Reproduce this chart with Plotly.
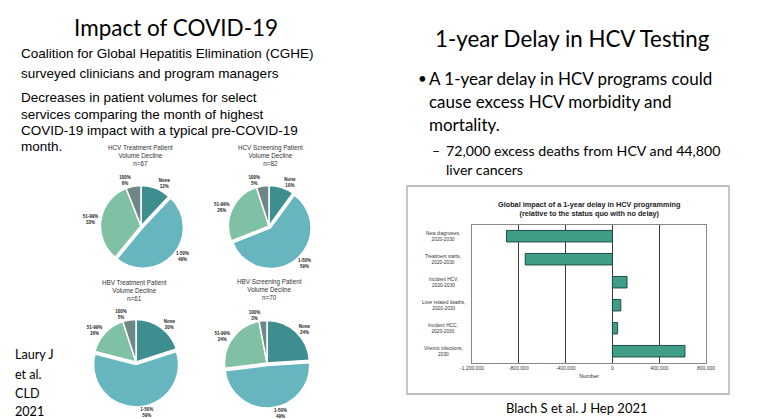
import plotly.graph_objects as go

# Window is 765x419; the page body adds an 8px offset, so the figure is
# sized to fill the remaining area and coordinates are mapped accordingly.
OFF = 8
W, H = 765 - OFF, 419 - OFF

def px(x):
    return (x - OFF) / W

def py(y):
    return 1 - (y - OFF) / H

# ---------------- data ----------------
pie_labels = ["None", "1-50%", "51-99%", "100%"]
hcv_treat = [12, 49, 33, 6]
hcv_screen = [10, 59, 26, 5]
hbv_treat = [20, 59, 16, 5]
hbv_screen = [24, 49, 24, 3]
pie_titles = [
    "HCV Treatment Patient<br>Volume Decline<br>n=67",
    "HCV Screening Patient<br>Volume Decline<br>n=82",
    "HBV Treatment Patient<br>Volume Decline<br>n=61",
    "HBV Screening Patient<br>Volume Decline<br>n=70",
]

bar_categories = [
    "New diagnoses,<br>2020-2030",
    "Treatment starts,<br>2020-2030",
    "Incident HCV,<br>2020-2030",
    "Liver related deaths,<br>2020-2030",
    "Incident HCC,<br>2020-2030",
    "Viremic infections,<br>2030",
]
bar_values = [-905000, -745000, 125000, 72000, 44800, 620000]
x_tickvals = [-1200000, -800000, -400000, 0, 400000, 800000]
x_ticktext = ["-1,200,000", "-800,000", "-400,000", "0", "400,000", "800,000"]

pie_colors = ["#3f8e8f", "#66b5bf", "#80c1a5", "#6f8786"]

fig = go.Figure()

# ---------------- pies ----------------
pie_specs = [
    (hcv_treat, 141, 226, 43, 140, 155),
    (hcv_screen, 269, 226, 43, 270, 155),
    (hbv_treat, 136, 362, 45, 134, 290),
    (hbv_screen, 267, 363, 45, 269, 289),
]
for (vals, cx, cy, r, tx, ty), title in zip(pie_specs, pie_titles):
    fig.add_trace(go.Pie(
        labels=pie_labels, values=vals, sort=False, direction="clockwise",
        rotation=0, pull=[0.0, 0.06, 0.0, 0.0],
        marker=dict(colors=pie_colors, line=dict(color="white", width=1.5)),
        texttemplate="<b>%{label}<br>%{value}%</b>", textposition="outside",
        textfont=dict(family="Liberation Sans", size=4.5, color="#222"),
        hoverinfo="skip", showlegend=False, automargin=False,
        domain=dict(x=[px(cx - r), px(cx + r)], y=[py(cy + r), py(cy - r)]),
    ))
    fig.add_annotation(
        x=px(tx), y=py(ty), xref="paper", yref="paper", text=title,
        showarrow=False, xanchor="center", yanchor="middle", align="center",
        font=dict(family="Liberation Sans", size=6.3, color="#333"),
    )

# ---------------- bar chart ----------------
fig.add_trace(go.Bar(
    x=bar_values, y=bar_categories, orientation="h", width=0.5,
    marker=dict(color="#409e88", line=dict(color="#1e4d42", width=1)),
    showlegend=False, hoverinfo="skip",
))

fig.update_layout(
    xaxis=dict(
        domain=[px(472), px(706)], range=[-1200000, 800000],
        tickvals=x_tickvals, ticktext=x_ticktext,
        tickfont=dict(family="Liberation Sans", size=5, color="#333"),
        showgrid=True, gridcolor="#3c3c3c", gridwidth=1,
        zeroline=False, showline=True, linecolor="#888", mirror=True,
        ticks="", ticklen=0, automargin=False,
        title=dict(text="Number", font=dict(family="Liberation Sans", size=5.5, color="#333"), standoff=4),
        anchor="y",
    ),
    yaxis=dict(
        domain=[py(362.7), py(224.7)], categoryorder="array",
        categoryarray=bar_categories, autorange="reversed",
        showticklabels=False, showgrid=False, zeroline=False,
        showline=True, linecolor="#888", mirror=True, anchor="x",
        automargin=False,
    ),
)

for cat in bar_categories:
    fig.add_annotation(
        x=px(443), y=cat, xref="paper", yref="y", text=cat, showarrow=False,
        xanchor="center", yanchor="middle", align="center",
        font=dict(family="Liberation Sans", size=4.8, color="#333"),
    )

fig.add_annotation(
    x=px(589), y=py(209), xref="paper", yref="paper",
    text="<b>Global impact of a 1-year delay in HCV programming<br>(relative to the status quo with no delay)</b>",
    showarrow=False, xanchor="center", yanchor="middle", align="center",
    font=dict(family="Liberation Sans", size=7.3, color="#222"),
)

# outer frame of bar chart
fig.add_shape(type="rect", xref="paper", yref="paper",
              x0=px(407), x1=px(729), y0=py(394), y1=py(186),
              line=dict(color="#a8a8a8", width=1.3))
# right slide edge strip
fig.add_shape(type="rect", xref="paper", yref="paper",
              x0=px(763), x1=1, y0=0, y1=1,
              line=dict(width=0), fillcolor="#e6e6e6")

# ---------------- slide text ----------------
def txt(x, y, s, size, family="Lato", anchor="left", color="black"):
    if anchor == "left":
        x -= 2  # compensate annotation inner padding
    fig.add_annotation(x=px(x), y=py(y), xref="paper", yref="paper", text=s,
                       showarrow=False, xanchor=anchor, yanchor="middle",
                       align=anchor,
                       font=dict(family=family, size=size, color=color))

txt(176, 27, "Impact of COVID-19", 22.5, anchor="center")
txt(572, 38, "1-year Delay in HCV Testing", 22.3, anchor="center")

left_lines = [
    (54, "Coalition for Global Hepatitis Elimination (CGHE)"),
    (73, "surveyed clinicians and program managers"),
    (97, "Decreases in patient volumes for select"),
    (114, "services comparing the month of highest"),
    (130, "COVID-19 impact with a typical pre-COVID-19"),
    (146, "month."),
]
for y, s in left_lines:
    txt(20.5, y, s, 13.5, family="Liberation Sans")

txt(422, 78, "•", 15, anchor="center")
txt(429, 78, "A 1-year delay in HCV programs could", 17)
txt(429, 101, "cause excess HCV morbidity and", 17)
txt(429, 124, "mortality.", 17)
txt(436, 150, "–", 14, anchor="center")
txt(446, 150, "72,000 excess deaths from HCV and 44,800", 14.2)
txt(446, 169, "liver cancers", 14.2)

for y, s in [(354, "Laury J"), (374, "et al."), (393, "CLD"), (411, "2021")]:
    txt(15, y, s, 12.6)

txt(577, 408, "Blach S et al. J Hep 2021", 13, anchor="center")

fig.update_layout(
    width=W, height=H,
    margin=dict(l=0, r=0, t=0, b=0, pad=0, autoexpand=False),
    paper_bgcolor="white", plot_bgcolor="white", showlegend=False,
)

fig.write_html("out.html")
